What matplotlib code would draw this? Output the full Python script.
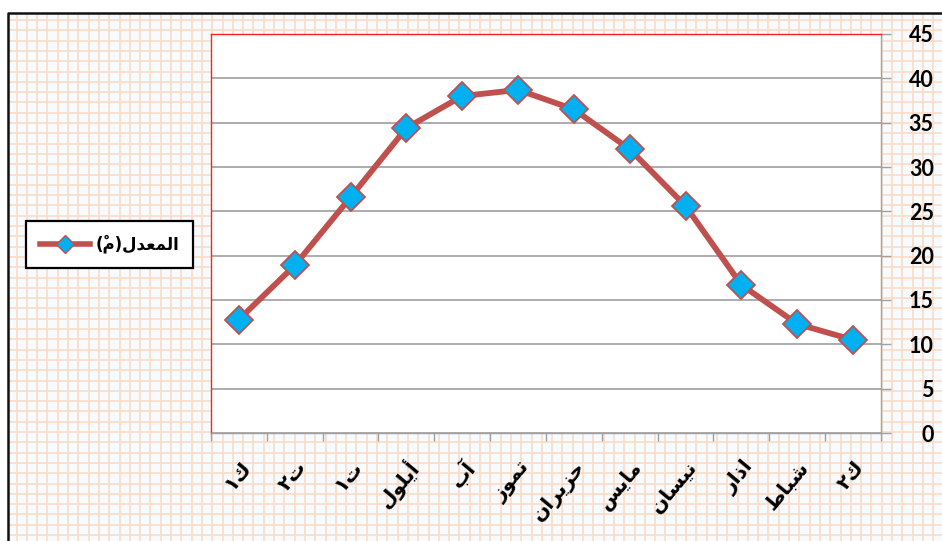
import numpy as np
import matplotlib
matplotlib.use("Agg")
import matplotlib.pyplot as plt
from matplotlib.lines import Line2D
from matplotlib.transforms import ScaledTranslation

# monthly mean temperature, calendar order (Jan .. Dec)
months = ["ك٢", "شباط", "اذار", "نيسان", "مايس", "حزيران",
          "تموز", "آب", "أيلول", "ت١", "ت٢", "ك١"]
temps = [10.5, 12.3, 16.7, 25.6, 32.0, 36.5, 38.7, 38.0, 34.4, 26.6, 18.9, 12.8]
series_name = "المعدل(مْ)"
y_ticks = list(range(0, 50, 5))

# --- tiny arabic shaper: presentation forms + visual (RTL) order ---
FORMS = {
    "ا": ("\uFE8D", "\uFE8E"), "أ": ("\uFE83", "\uFE84"), "آ": ("\uFE81", "\uFE82"),
    "د": ("\uFEA9", "\uFEAA"), "ذ": ("\uFEAB", "\uFEAC"), "ر": ("\uFEAD", "\uFEAE"),
    "ز": ("\uFEAF", "\uFEB0"), "و": ("\uFEED", "\uFEEE"),
    "ب": ("\uFE8F", "\uFE90", "\uFE91", "\uFE92"), "ت": ("\uFE95", "\uFE96", "\uFE97", "\uFE98"),
    "ح": ("\uFEA1", "\uFEA2", "\uFEA3", "\uFEA4"), "س": ("\uFEB1", "\uFEB2", "\uFEB3", "\uFEB4"),
    "ش": ("\uFEB5", "\uFEB6", "\uFEB7", "\uFEB8"), "ط": ("\uFEC1", "\uFEC2", "\uFEC3", "\uFEC4"),
    "ع": ("\uFEC9", "\uFECA", "\uFECB", "\uFECC"), "ك": ("\uFED9", "\uFEDA", "\uFEDB", "\uFEDC"),
    "ل": ("\uFEDD", "\uFEDE", "\uFEDF", "\uFEE0"), "م": ("\uFEE1", "\uFEE2", "\uFEE3", "\uFEE4"),
    "ن": ("\uFEE5", "\uFEE6", "\uFEE7", "\uFEE8"), "ي": ("\uFEF1", "\uFEF2", "\uFEF3", "\uFEF4"),
}
MARKS = "\u064B\u064C\u064D\u064E\u064F\u0650\u0651\u0652"


def _neighbour(text, i, step):
    j = i + step
    while 0 <= j < len(text) and text[j] in MARKS:
        j += step
    return text[j] if 0 <= j < len(text) else ""


def arabic(text):
    shaped = []
    for i, ch in enumerate(text):
        f = FORMS.get(ch)
        if f is None:
            shaped.append(ch)
            continue
        prev, nxt = _neighbour(text, i, -1), _neighbour(text, i, 1)
        join_prev = prev in FORMS and len(FORMS[prev]) == 4
        join_next = len(f) == 4 and nxt in FORMS
        if join_prev and join_next:
            shaped.append(f[3])
        elif join_prev:
            shaped.append(f[1])
        elif join_next:
            shaped.append(f[2])
        else:
            shaped.append(f[0])
    # DejaVu marks sit to the right of the pen, so a plain reversal
    # leaves each mark just before (i.e. over) its base letter
    mirror = {"(": ")", ")": "("}
    return "".join(mirror.get(c, c) for c in reversed(shaped))


W, H = 942, 541
fig = plt.figure(figsize=(W / 100, H / 100), dpi=100)
fig.patch.set_facecolor("white")

# graph-paper backdrop in pixel coordinates
bg = fig.add_axes([0, 0, 1, 1], zorder=0)
bg.set_xlim(0, W)
bg.set_ylim(H, 0)
bg.axis("off")
bg.add_patch(plt.Rectangle((8, 13), W, H, facecolor="#F8FBFE", edgecolor="none"))
step = 10.3
bg.vlines(np.arange(16.5, W, step), 13, H, color="#FBDCC6", lw=1.2)
bg.hlines(np.arange(20.0, H, step), 8, W, color="#FBDCC6", lw=1.2)
bg.plot([8, 8, W], [H, 13, 13], color="#111111", lw=1.8, solid_capstyle="butt")

# plot area
ax = fig.add_axes([211 / W, 1 - 433 / H, (881 - 211) / W, (433 - 34) / H], zorder=2)
ax.set_facecolor("white")
x = np.arange(1, len(months) + 1)
ax.plot(x, temps, color="#C0504D", lw=4.2, marker="D", markersize=14,
        markerfacecolor="#00B0F0", markeredgecolor="#C0504D", markeredgewidth=1.3,
        solid_joinstyle="round", zorder=3)

ax.set_xlim(len(months) + 0.5, 0.5)
ax.set_ylim(0, 45)
ax.set_yticks(y_ticks)
ax.yaxis.tick_right()
ax.grid(axis="y", color="#A6A6A6", lw=1.3)
ax.set_axisbelow(True)

for side in ("left", "top"):
    ax.spines[side].set_color("#FF2020")
    ax.spines[side].set_linewidth(1.0)
for side in ("right", "bottom"):
    ax.spines[side].set_color("#A0A0A0")
    ax.spines[side].set_linewidth(1.0)

ax.tick_params(axis="y", direction="out", length=7, width=1.0, color="#A0A0A0",
               pad=31, labelsize=15.5)
for lab in ax.get_yticklabels():
    lab.set_horizontalalignment("right")
    lab.set_fontfamily(["Lato", "DejaVu Sans"])
    lab.set_fontweight("bold")

# category boundaries carry the tick marks, centres carry the names
ax.set_xticks(np.arange(0.5, len(months) + 1, 1.0))
ax.set_xticklabels([])
ax.tick_params(axis="x", which="major", direction="out", length=6, width=1.0, color="#A0A0A0")
ax.set_xticks(x, [arabic(m) for m in months], minor=True)
ax.tick_params(axis="x", which="minor", length=0, pad=22, labelrotation=50, labelsize=14.5)
shift = ScaledTranslation(6 / 72, 0, fig.dpi_scale_trans)
for lab in ax.get_xticklabels(minor=True):
    lab.set_rotation_mode("anchor")
    lab.set_horizontalalignment("right")
    lab.set_verticalalignment("center")
    lab.set_fontfamily(["DejaVu Sans"])
    lab.set_fontweight("bold")
    lab.set_transform(lab.get_transform() + shift)

handle = Line2D([], [], color="#C0504D", lw=4.0, marker="D", markersize=9,
                markerfacecolor="#00B0F0", markeredgecolor="#C0504D", markeredgewidth=1.0)
leg = ax.legend([handle], [arabic(series_name)], loc="center left",
                bbox_to_anchor=(26 / W, 1 - 244.5 / H), bbox_transform=fig.transFigure,
                frameon=True, fancybox=False, framealpha=1, edgecolor="black",
                handlelength=3.0, borderpad=0.85, borderaxespad=0,
                handletextpad=0.3, prop={"family": ["DejaVu Sans"], "weight": "bold", "size": 12})
leg.get_frame().set_linewidth(1.6)

fig.savefig("out.png", dpi=100)
